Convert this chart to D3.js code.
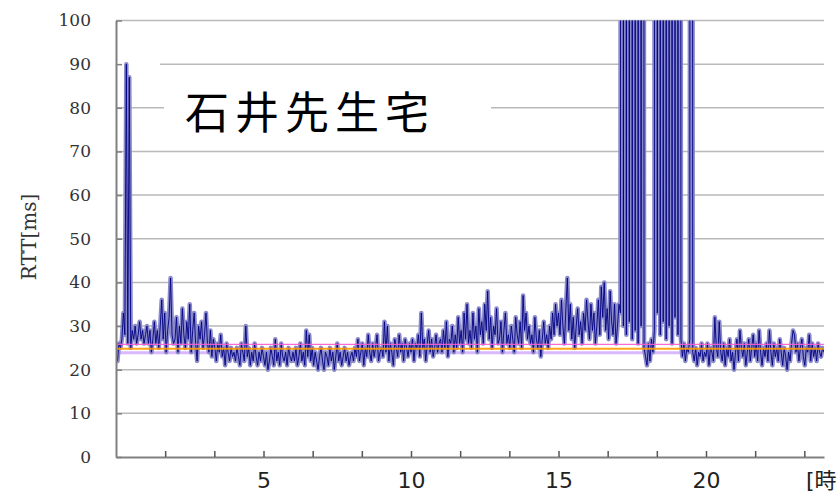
<!DOCTYPE html>
<html>
<head>
<meta charset="utf-8">
<script src="https://cdn.jsdelivr.net/npm/d3@7"></script>
<style>
  body { margin: 0; background: #fff; }
  svg { display: block; }
</style>
</head>
<body>
<script>
// RTT samples, one every 0.05 h (3 min) from 0:00 to 24:00, in ms.
// 1000 = timeout, runs off the top of the chart.
const stepHours = 0.05;
const rtt = [
  24, 22, 26, 25, 27, 33, 28, 90, 26, 87, 25, 29, 27, 30, 26, 28, 31, 27, 29, 26,            // 0h
  28, 30, 26, 29, 24, 27, 31, 26, 29, 25, 30, 36, 27, 33, 24, 29, 32, 41, 28, 26,            // 1h
  27, 32, 24, 30, 26, 34, 28, 25, 31, 27, 35, 24, 29, 33, 26, 22, 30, 27, 31, 25,            // 2h
  28, 33, 26, 24, 29, 23, 27, 25, 22, 26, 24, 28, 23, 25, 21, 26, 24, 22, 25, 23,            // 3h
  24, 22, 25, 23, 21, 26, 24, 22, 30, 23, 25, 21, 24, 22, 26, 23, 21, 24, 22, 25,            // 4h
  23, 21, 24, 20, 22, 25, 23, 21, 27, 22, 24, 21, 26, 23, 22, 24, 21, 25, 23, 22,            // 5h
  24, 22, 25, 21, 23, 26, 22, 24, 21, 29, 23, 28, 22, 25, 21, 24, 22, 20, 23, 25,            // 6h
  22, 20, 24, 23, 21, 25, 22, 24, 20, 23, 26, 22, 24, 21, 23, 25, 22, 24, 21, 23,            // 7h
  24, 22, 25, 23, 27, 22, 24, 26, 21, 25, 23, 28, 24, 22, 26, 23, 25, 28, 22, 24,            // 8h
  25, 23, 31, 24, 30, 22, 26, 24, 21, 27, 25, 23, 28, 24, 26, 22, 27, 25, 23, 26,            // 9h
  24, 27, 22, 26, 25, 28, 23, 33, 25, 27, 22, 26, 29, 24, 27, 23, 25, 28, 24, 26,            // 10h
  27, 24, 29, 25, 31, 23, 27, 26, 30, 24, 28, 25, 32, 26, 29, 24, 33, 27, 35, 26,            // 11h
  29, 25, 33, 27, 30, 24, 34, 28, 31, 26, 35, 29, 38, 27, 32, 25, 30, 28, 34, 26,            // 12h
  27, 31, 24, 29, 33, 26, 28, 25, 30, 27, 24, 32, 28, 26, 31, 25, 37, 29, 33, 27,            // 13h
  30, 26, 28, 24, 32, 27, 25, 29, 23, 27, 31, 26, 28, 25, 30, 27, 33, 28, 35, 30,            // 14h
  33, 28, 36, 30, 26, 34, 41, 29, 35, 27, 32, 25, 30, 34, 28, 31, 26, 33, 29, 36,            // 15h
  31, 27, 35, 29, 33, 26, 30, 36, 28, 39, 32, 40, 29, 34, 27, 38, 31, 28, 35, 26,            // 16h
  30, 35, 33, 1000, 30, 1000, 28, 1000, 31, 1000, 27, 1000, 29, 1000, 26, 1000, 30, 1000, 25, 23, // 17h
  21, 26, 22, 27, 24, 29, 1000, 33, 1000, 28, 1000, 31, 1000, 27, 1000, 30, 1000, 26, 1000, 32,   // 18h
  1000, 28, 1000, 27, 23, 26, 22, 25, 24, 27, 1000, 24, 22, 25, 21, 24, 23, 26, 22, 24,      // 19h
  23, 26, 21, 25, 24, 22, 32, 25, 23, 31, 24, 22, 26, 21, 25, 23, 27, 22, 24, 20,            // 20h
  24, 27, 22, 29, 25, 23, 26, 21, 24, 27, 22, 25, 28, 23, 26, 22, 29, 24, 21, 25,            // 21h
  23, 26, 22, 29, 24, 21, 26, 23, 25, 22, 27, 24, 21, 25, 23, 20, 24, 22, 26, 29,            // 22h
  28, 24, 26, 22, 25, 27, 23, 21, 25, 24, 28, 22, 26, 23, 25, 22, 26, 24, 23, 25, 24         // 23h
];

const yTicks = [0, 10, 20, 30, 40, 50, 60, 70, 80, 90, 100];
const xTicks = d3.range(1, 15).map(i => (i * 5) / 3);   // a tick every 100 min
const hourLabels = [5, 10, 15, 20];
const refValues = [25.8, 24.8, 23.9];                     // pink, orange, lavender
const refColors = ["#ff5ccf", "#ff9a00", "#d9b8ff"];
const refWidths = [1.2, 2.2, 3];
const title = "石井先生宅";
const yTitle = "RTT[ms]";
const xUnit = "[時]";

const W = 838, H = 496;
const x = d3.scaleLinear().domain([0, 24]).range([116, 824]);
const y = d3.scaleLinear().domain([0, 100]).range([457, 20.5]);

const svg = d3.select("body").append("svg")
    .attr("width", W)
    .attr("height", H);

svg.append("defs").append("clipPath")
    .attr("id", "plot")
  .append("rect")
    .attr("x", x(0))
    .attr("y", y(100))
    .attr("width", x(24) - x(0))
    .attr("height", y(0) - y(100));

// horizontal grid
svg.append("g")
  .selectAll("line")
  .data(yTicks.filter(d => d > 0))
  .join("line")
    .attr("x1", x(0))
    .attr("x2", x(24))
    .attr("y1", d => y(d))
    .attr("y2", d => y(d))
    .attr("stroke", "#b9b9b9")
    .attr("stroke-width", 1.5);

// white boxes that hide parts of the grid (title background)
svg.append("rect")
    .attr("x", 164).attr("y", 72)
    .attr("width", 327).attr("height", 72)
    .attr("fill", "#fff");
svg.append("rect")
    .attr("x", 117).attr("y", y(90) - 3)
    .attr("width", 43).attr("height", 6)
    .attr("fill", "#fff");

// lavender band sits under the data
svg.append("line")
    .attr("clip-path", "url(#plot)")
    .attr("x1", x(0)).attr("x2", x(24))
    .attr("y1", y(refValues[2])).attr("y2", y(refValues[2]))
    .attr("stroke", refColors[2])
    .attr("stroke-width", refWidths[2]);

// RTT trace: light halo then dark core
const pts = rtt.map((v, i) => [i * stepHours, v]);
const line = d3.line()
    .x(d => x(d[0]))
    .y(d => y(d[1]));
const trace = svg.append("g").attr("clip-path", "url(#plot)");
trace.append("path")
    .attr("d", line(pts))
    .attr("fill", "none")
    .attr("stroke", "#8a8acb")
    .attr("stroke-width", 4.5)
    .attr("stroke-linejoin", "round");
trace.append("path")
    .attr("d", line(pts))
    .attr("fill", "none")
    .attr("stroke", "#000080")
    .attr("stroke-width", 0.9)
    .attr("stroke-linejoin", "round");

// pink and orange reference lines on top
svg.append("g")
  .selectAll("line")
  .data(refValues.slice(0, 2))
  .join("line")
    .attr("x1", x(0))
    .attr("x2", x(24))
    .attr("y1", d => y(d))
    .attr("y2", d => y(d))
    .attr("stroke", (d, i) => refColors[i])
    .attr("stroke-width", (d, i) => refWidths[i])
    .attr("opacity", 0.9);

// y axis, ticks point inward
const yAxis = svg.append("g")
    .attr("transform", `translate(${x(0)},0)`)
    .call(d3.axisLeft(y)
        .tickValues(yTicks)
        .tickSizeInner(-6)
        .tickSizeOuter(0)
        .tickPadding(25));
yAxis.select(".domain").attr("stroke", "#808080").attr("stroke-width", 2);
yAxis.selectAll(".tick line").attr("stroke", "#808080").attr("stroke-width", 1.5);
yAxis.selectAll(".tick text")
    .attr("font-family", "'DejaVu Serif', serif")
    .attr("font-size", 17)
    .attr("fill", "#333");

// x axis, ticks point inward, labels only on whole 5 h
const xAxis = svg.append("g")
    .attr("transform", `translate(0,${y(0)})`)
    .call(d3.axisBottom(x)
        .tickValues(xTicks)
        .tickSizeInner(-6)
        .tickSizeOuter(0)
        .tickFormat(d => {
            const h = Math.round(d);
            return Math.abs(d - h) < 1e-9 && hourLabels.includes(h) ? h : "";
        }));
xAxis.select(".domain").attr("stroke", "#808080").attr("stroke-width", 2);
xAxis.selectAll(".tick line").attr("stroke", "#555").attr("stroke-width", 1.5);
xAxis.selectAll(".tick text")
    .attr("y", 31)
    .attr("dy", 0)
    .attr("font-family", "'DejaVu Sans', sans-serif")
    .attr("font-size", 22)
    .attr("fill", "#222");

// unit label is cut by the right edge in the original too
svg.append("text")
    .attr("x", 806)
    .attr("y", 488)
    .attr("font-family", "'DejaVu Sans', 'Noto Sans CJK JP', sans-serif")
    .attr("font-size", 22)
    .attr("fill", "#222")
    .text(xUnit);

svg.append("text")
    .attr("transform", "translate(29,237) rotate(-90)")
    .attr("text-anchor", "middle")
    .attr("dominant-baseline", "central")
    .attr("font-family", "'DejaVu Serif', serif")
    .attr("font-size", 20)
    .attr("fill", "#333")
    .text(yTitle);

svg.append("text")
    .attr("x", 185)
    .attr("y", 129)
    .attr("font-family", "'Noto Sans CJK JP', sans-serif")
    .attr("font-size", 44)
    .attr("letter-spacing", 6)
    .attr("fill", "#000")
    .text(title);
</script>
</body>
</html>
